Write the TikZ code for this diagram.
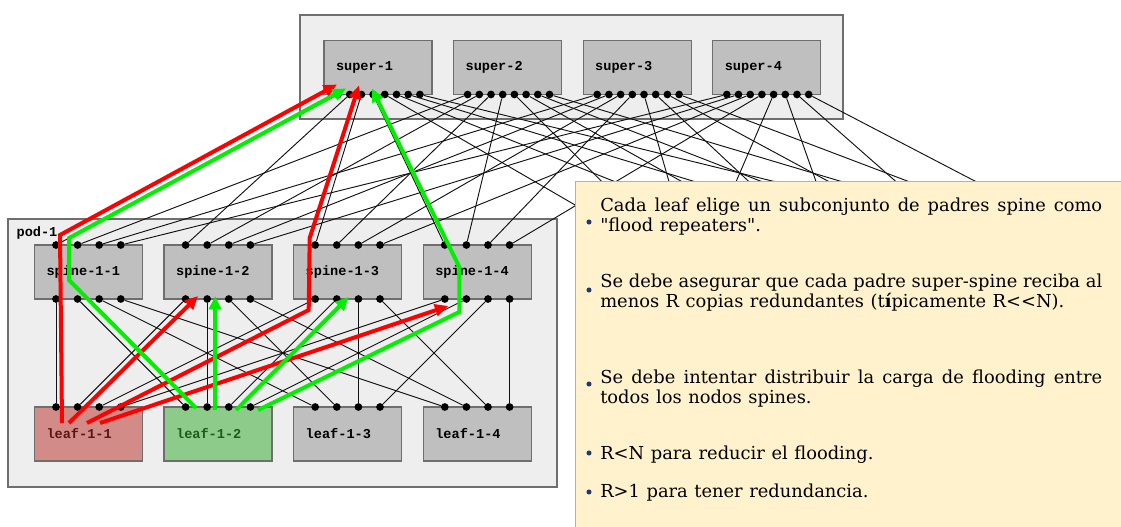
\documentclass[tikz,border=0pt]{standalone}
\usepackage{fontspec}
\newfontfamily\notefont{DejaVu Serif}[WordSpace=1.15]
\newfontfamily\portfont{Liberation Mono}
\usetikzlibrary{arrows.meta,calc,positioning}
\hyphenpenalty=10000
\exhyphenpenalty=10000
\definecolor{ink}{HTML}{111111}
\definecolor{frame}{HTML}{6E6E6E}
\definecolor{podfill}{HTML}{EEEEEE}
\definecolor{boxfill}{HTML}{BFBFBF}
\definecolor{leafred}{HTML}{D38B87}
\definecolor{leafredtxt}{HTML}{5A1515}
\definecolor{leafgreen}{HTML}{8DCB8A}
\definecolor{leafgreentxt}{HTML}{1D5A1D}
\definecolor{floodred}{HTML}{FF0000}
\definecolor{floodgreen}{HTML}{00F000}
\definecolor{notefill}{HTML}{FFF2CC}
\definecolor{noteframe}{HTML}{F0A060}
\definecolor{bulletblue}{HTML}{1F3A6E}

\tikzset{
  pod/.style={draw=frame,fill=podfill,line width=1pt,inner sep=0pt},
  switch/.style={draw=frame,fill=boxfill,line width=1pt,outer sep=0pt,text width=63pt,inner xsep=9pt,inner ysep=0pt,minimum height=40.5pt,align=left,font=\portfont\bfseries\fontsize{10.2}{12}\selectfont},
  port/.style={circle,fill=black,inner sep=0pt,minimum size=5.8pt},
  link/.style={draw=ink,line width=0.7pt},
  floodr/.style={draw=floodred,line width=3pt,-{Triangle[length=10pt,width=9pt]}},
  floodg/.style={draw=floodgreen,line width=3pt,-{Triangle[length=10pt,width=9pt]}},
  note/.style={draw=noteframe,fill=notefill,line width=1.1pt},
  noteitem/.style={text width=376.5pt,align=justify,inner sep=0pt,font=\notefont\fontsize{13.4}{15}\selectfont},
  bullet/.style={circle,fill=bulletblue,inner sep=0pt,minimum size=3.8pt}
}

\begin{document}
\begin{tikzpicture}[x=0.75pt,y=-0.75pt,node distance=81pt and 16.2pt]
\useasboundingbox (0,0) rectangle (1121,527);
% frames
\node[pod,minimum width=407.25pt,minimum height=78pt] (supframe) at (571.5,67) {};
\node[pod,minimum width=411.75pt,minimum height=201pt] (pod1) at (282.5,353) {};
\node[anchor=west,inner sep=0pt,font=\portfont\bfseries\fontsize{10.2}{12}\selectfont] (podlabel) at ($(pod1.north west)+(9,15)$) {pod-1};
% super-spines
\node[switch] (super1) at (378,67.5) {super-1};
\node[switch,right=of super1] (super2) {super-2};
\node[switch,right=of super2] (super3) {super-3};
\node[switch,right=of super3] (super4) {super-4};
% spines and leaves of pod-1
\node[switch] (spine11) at (88.5,272) {spine-1-1};
\node[switch,right=of spine11] (spine12) {spine-1-2};
\node[switch,right=of spine12] (spine13) {spine-1-3};
\node[switch,right=of spine13] (spine14) {spine-1-4};
\node[switch,fill=leafred,text=leafredtxt,below=of spine11] (leaf11) {leaf-1-1};
\node[switch,fill=leafgreen,text=leafgreentxt,right=of leaf11] (leaf12) {leaf-1-2};
\node[switch,right=of leaf12] (leaf13) {leaf-1-3};
\node[switch,right=of leaf13] (leaf14) {leaf-1-4};
% ports
\foreach \n in {1,...,4}{
  \foreach \k in {1,...,8}
    \node[port] (sup\n-\k) at ($(super\n.south west)+({14+11.7*(\k-1)},0)$) {};
}
\foreach \m in {1,...,4}{
  \foreach \k in {1,...,4}{
    \node[port] (spu\m-\k) at ($(spine1\m.north west)+({21.5+21.6*(\k-1)},0)$) {};
    \node[port] (spd\m-\k) at ($(spine1\m.south west)+({21.5+21.6*(\k-1)},0)$) {};
    \node[port] (lfu\m-\k) at ($(leaf1\m.north west)+({21.5+21.6*(\k-1)},0)$) {};
    \coordinate (spx\m-\k) at ($(spu\m-\k)+(588,0)$); % pod-2, under the notes
  }
}
% links
\foreach \n in {1,...,4}{
  \foreach \m in {1,...,4}{
    \pgfmathtruncatemacro{\q}{\m+4}
    \draw[link] (sup\n-\m) -- (spu\m-\n);
    \draw[link] (sup\n-\q) -- (spx\m-\n);
    \draw[link] (spd\n-\m) -- (lfu\m-\n);
  }
}
% flooding from leaf-1-1
\draw[floodr] ($(leaf11.north west)+(27.5,16)$) -- ($(spine11.north west)+(25.5,-10)$) -- ($(super1.south west)+(13,-10)$);
\draw[floodr] ($(leaf11.north west)+(34.5,16)$) -- ($(spine12.south west)+(34,-3)$);
\draw[floodr] ($(leaf11.north west)+(52.5,16)$) -- ($(spine13.south west)+(15,11)$) -- ($(spine13.north west)+(16,-7)$) -- ($(super1.south west)+(35,-9)$);
\draw[floodr] ($(leaf11.north west)+(65.5,16)$) -- ($(spine14.south west)+(25,7)$);
% flooding from leaf-1-2
\draw[floodg] ($(leaf12.north west)+(32,1)$) -- ($(spine11.south west)+(34.5,-19)$) -- ($(spine11.north west)+(34.5,-7)$) -- ($(super1.south west)+(22,-6)$);
\draw[floodg] ($(leaf12.north west)+(51,3)$) -- ($(spine12.south west)+(51,-3)$);
\draw[floodg] ($(leaf12.north west)+(72,3)$) -- ($(spine13.south west)+(55,-2)$);
\draw[floodg] ($(leaf12.north west)+(94,3)$) -- ($(spine14.south west)+(36,13)$) -- ($(spine14.north west)+(36,22)$) -- ($(super1.south west)+(48,-6)$);
% notes
\node[note,anchor=north west,minimum width=420pt,minimum height=270pt] (notes) at (575,181) {};
\node[bullet] (b1) at (589,222) {};
\node[bullet] (b2) at (589,290) {};
\node[bullet] (b3) at (589,384) {};
\node[bullet] (b4) at (589,453) {};
\node[bullet] (b5) at (589,492) {};
\node[noteitem,anchor=base west] (t1) at (600,212) {Cada leaf elige un subconjunto de padres spine como\linebreak "flood repeaters".};
\node[noteitem,anchor=base west] (t2) at (600,288) {Se debe asegurar que cada padre super-spine reciba al\linebreak menos R copias redundantes (t\textbf{í}picamente R<<N).};
\node[noteitem,anchor=base west] (t3) at (600,383) {Se debe intentar distribuir la carga de flooding entre\linebreak todos los nodos spines.};
\node[noteitem,anchor=base west] (t4) at (600,459) {R<N para reducir el flooding.};
\node[noteitem,anchor=base west] (t5) at (600,497) {R>1 para tener redundancia.};
\end{tikzpicture}
\end{document}
